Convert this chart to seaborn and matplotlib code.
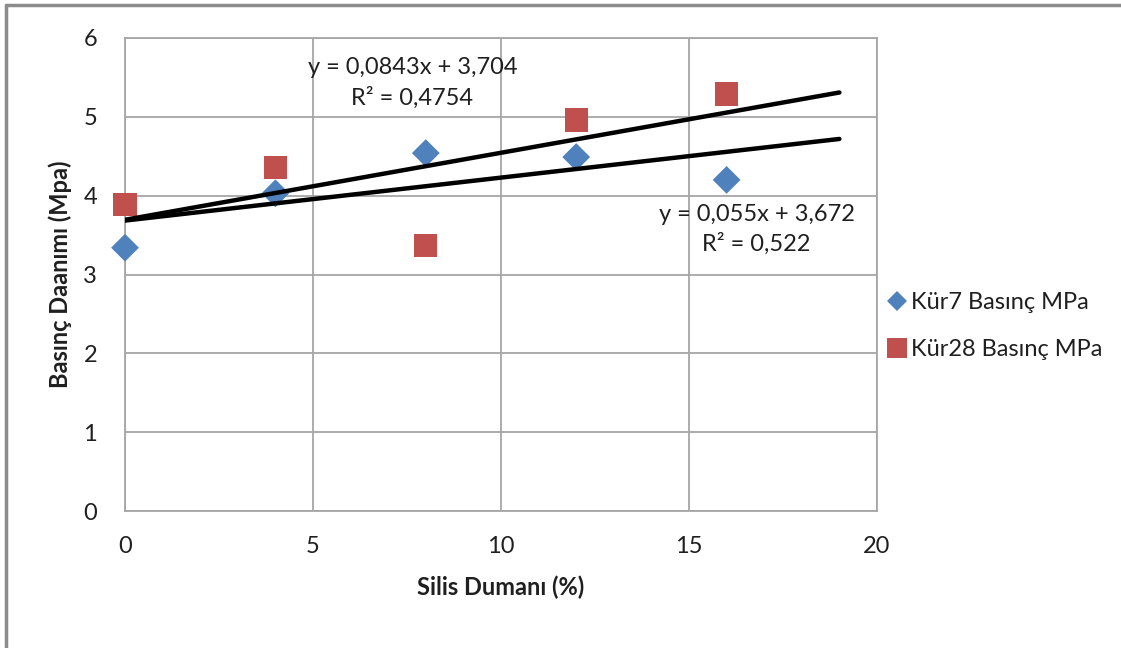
import matplotlib
matplotlib.use("Agg")
import matplotlib.pyplot as plt
from matplotlib.lines import Line2D
import seaborn as sns
import numpy as np
import pandas as pd

# data
silis = [0, 4, 8, 12, 16]
kur7 = [3.34, 4.03, 4.54, 4.49, 4.20]
kur28 = [3.89, 4.36, 3.37, 4.96, 5.29]
labels = ["Kür7 Basınç MPa", "Kür28 Basınç MPa"]
eq_texts = ["y = 0,055x + 3,672\nR² = 0,522", "y = 0,0843x + 3,704\nR² = 0,4754"]

blue = "#4F81BD"
red = "#C0504D"
grid = "#A6A6A6"
txt = "#1F1F1F"

sns.set_theme(style="white")
plt.rcParams["font.family"] = ["Lato", "DejaVu Sans"]

fig = plt.figure(figsize=(11.21, 6.48), dpi=100)
ax = fig.add_axes([125 / 1121, 1 - 511 / 648, (877 - 125) / 1121, (511 - 38) / 648])

df = pd.DataFrame({"x": silis, "k7": kur7, "k28": kur28})

sns.scatterplot(data=df, x="x", y="k7", marker="D", s=200, color=blue,
                edgecolor="none", ax=ax, zorder=3, clip_on=False)
sns.scatterplot(data=df, x="x", y="k28", marker="s", s=280, color=red,
                edgecolor="none", ax=ax, zorder=3, clip_on=False)

# linear trend lines, forward to x = 19
xt = np.array([0, 19])
for ys in (kur7, kur28):
    m, b = np.polyfit(silis, ys, 1)
    sns.lineplot(x=xt, y=m * xt + b, color="black", lw=3.2, ax=ax, zorder=4)

ax.set_xlim(0, 20)
ax.set_ylim(0, 6)
ax.set_xticks([0, 5, 10, 15, 20])
ax.set_yticks(range(7))
ax.grid(True, color=grid, lw=1.3)
ax.set_axisbelow(True)
for s in ax.spines.values():
    s.set_color(grid)
    s.set_linewidth(1.3)
ax.tick_params(axis="both", length=0, labelsize=17, colors=txt)
ax.tick_params(axis="y", pad=20)
ax.tick_params(axis="x", pad=18)

ax.set_xlabel("Silis Dumanı (%)", fontsize=17, fontweight="bold", color=txt, labelpad=13)
ax.set_ylabel("Basınç Daanımı (Mpa)", fontsize=17, fontweight="bold", color=txt, labelpad=8)

ax.text(0.382, 0.905, eq_texts[1], transform=ax.transAxes, ha="center", va="center",
        fontsize=17, color=txt, linespacing=1.45, zorder=5)
ax.text(0.84, 0.595, eq_texts[0], transform=ax.transAxes, ha="center", va="center",
        fontsize=17, color=txt, linespacing=1.45, zorder=5)

handles = [Line2D([], [], marker="D", ls="none", color=blue, markersize=10, markeredgewidth=0),
           Line2D([], [], marker="s", ls="none", color=red, markersize=14, markeredgewidth=0)]
fig.legend(handles, labels, loc="center left", bbox_to_anchor=(864 / 1121, 1 - 326 / 648),
           frameon=False, fontsize=17, handletextpad=0.1, labelspacing=1.1,
           handlelength=1.0, labelcolor=txt)

# outer chart border (left and top only visible)
fig.add_artist(Line2D([6 / 1121, 6 / 1121], [0, 1 - 5 / 648], transform=fig.transFigure,
                      color="#8C8C8C", lw=2.5))
fig.add_artist(Line2D([6 / 1121, 1], [1 - 5 / 648, 1 - 5 / 648], transform=fig.transFigure,
                      color="#8C8C8C", lw=2.5))

fig.savefig("out.png", dpi=100, facecolor="white")
